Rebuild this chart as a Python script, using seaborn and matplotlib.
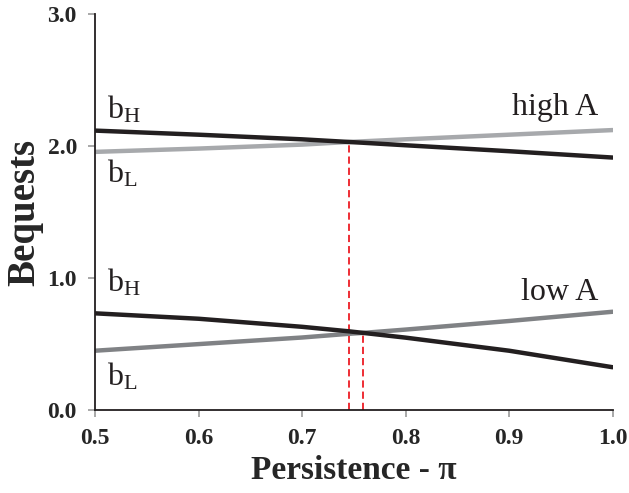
import numpy as np
import pandas as pd
import matplotlib
matplotlib.use('Agg')
import matplotlib.pyplot as plt
import seaborn as sns

# values
persistence = [0.5, 0.6, 0.7, 0.745, 0.759, 0.8, 0.9, 1.0]
high_bH = [2.116, 2.085, 2.05, 2.03, 2.024, 2.005, 1.96, 1.912]
high_bL = [1.955, 1.98, 2.01, 2.03, 2.035, 2.05, 2.085, 2.12]
low_bH = [0.733, 0.692, 0.631, 0.597, 0.585, 0.549, 0.450, 0.325]
low_bL = [0.45, 0.50, 0.55, 0.578, 0.585, 0.61, 0.675, 0.745]

cross_x = [0.745, 0.759]
cross_y = [2.03, 0.585]

sns.set_style('ticks')
plt.rcParams['font.family'] = ['Liberation Serif', 'DejaVu Serif']
plt.rcParams['mathtext.fontset'] = 'custom'
plt.rcParams['mathtext.rm'] = 'Liberation Serif'
plt.rcParams['mathtext.it'] = 'Liberation Serif:italic'
plt.rcParams['mathtext.bf'] = 'Liberation Serif:bold'

fig = plt.figure(figsize=(6.29, 4.93), dpi=100)
ax = fig.add_axes([0.151, 0.168, 0.823, 0.804])

# dashed markers at the crossing points
ax.vlines(cross_x, 0, cross_y, colors='#ed1c24', linestyles=(0, (4, 2.2)),
          lw=1.3, zorder=1)

sns.lineplot(x=persistence, y=high_bL, color='#a7a9ac', lw=3.2, ax=ax, zorder=2)
sns.lineplot(x=persistence, y=high_bH, color='#231f20', lw=3.2, ax=ax, zorder=3)
sns.lineplot(x=persistence, y=low_bL, color='#808285', lw=3.2, ax=ax, zorder=2)
sns.lineplot(x=persistence, y=low_bH, color='#231f20', lw=3.2, ax=ax, zorder=3)

ax.set_xlim(0.5, 1.0)
ax.set_ylim(0, 3.0)
ax.set_xticks([0.5, 0.6, 0.7, 0.8, 0.9, 1.0])
ax.set_yticks([0.0, 1.0, 2.0, 3.0])
ax.set_xticklabels(['0.5', '0.6', '0.7', '0.8', '0.9', '1.0'])
ax.set_yticklabels(['0.0', '1.0', '2.0', '3.0'])
ax.tick_params(axis='both', direction='out', length=5, width=1.2,
               color='#999999', labelsize=17, pad=8)
for lab in ax.get_xticklabels() + ax.get_yticklabels():
    lab.set_fontweight('bold')

sns.despine(ax=ax)
for side in ['left', 'bottom']:
    ax.spines[side].set_color('#231f20')
    ax.spines[side].set_linewidth(1.3)

ax.set_xlabel('Persistence - π', fontsize=24, fontweight='bold', labelpad=4)
ax.set_ylabel('Bequests', fontsize=28, fontweight='bold', labelpad=3)

lab_kw = dict(fontsize=23, color='#231f20', va='baseline')
ax.text(0.512, 2.21, r'b$_{\mathrm{H}}$', **lab_kw)
ax.text(0.512, 1.72, r'b$_{\mathrm{L}}$', **lab_kw)
ax.text(0.512, 0.90, r'b$_{\mathrm{H}}$', **lab_kw)
ax.text(0.512, 0.19, r'b$_{\mathrm{L}}$', **lab_kw)
ax.text(0.986, 2.235, 'high A', ha='right', **lab_kw)
ax.text(0.986, 0.833, 'low A', ha='right', **lab_kw)

fig.savefig('out.png', dpi=100)
